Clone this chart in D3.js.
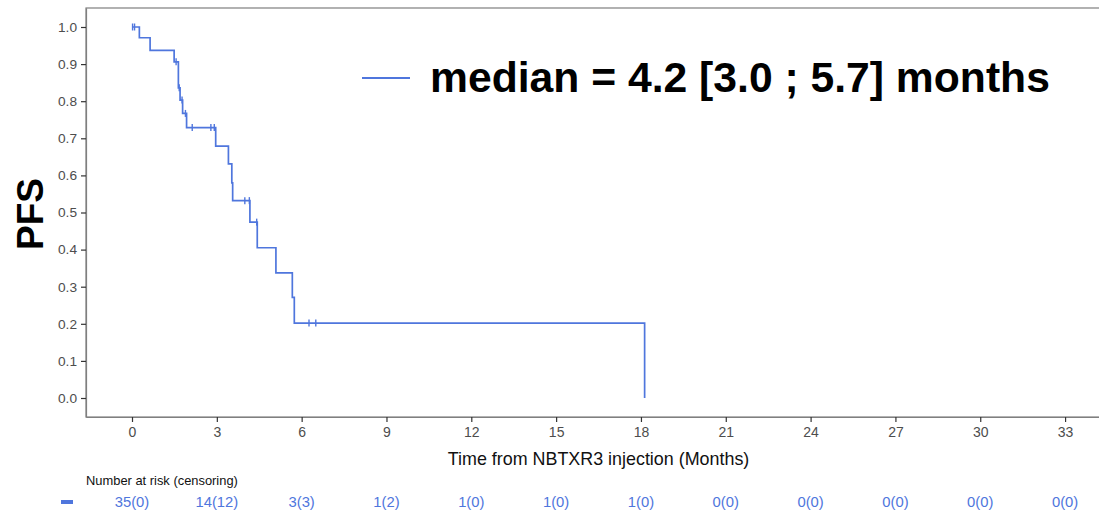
<!DOCTYPE html>
<html><head><meta charset="utf-8">
<script src="https://cdn.jsdelivr.net/npm/d3@7"></script>
<style>body{margin:0;background:#fff;} text{font-family:"Liberation Sans",Arial,sans-serif;}</style>
</head><body>
<svg id="c" width="1099" height="513"></svg>
<script>
// KM step data (event times and survival after each event)
const eventTimes = [0, 0.26, 0.64, 1.49, 1.64, 1.70, 1.79, 1.93, 2.96, 3.41, 3.53, 3.56, 4.17, 4.43, 5.09, 5.67, 5.74, 18.13];
const survival   = [1.0, 0.971, 0.937, 0.906, 0.836, 0.803, 0.767, 0.729, 0.679, 0.631, 0.580, 0.532, 0.474, 0.405, 0.337, 0.271, 0.202, 0.0];
const censorTimes = [0.02, 0.09, 1.56, 1.67, 1.77, 1.89, 2.13, 2.79, 2.91, 3.99, 4.15, 4.41, 6.26, 6.50];
const censorSurv  = [1.0, 1.0, 0.906, 0.836, 0.803, 0.767, 0.729, 0.729, 0.729, 0.532, 0.532, 0.474, 0.202, 0.202];
const xTicks = [0,3,6,9,12,15,18,21,24,27,30,33];
const yTicks = [0,0.1,0.2,0.3,0.4,0.5,0.6,0.7,0.8,0.9,1.0];
const riskLabels = ["35(0)","14(12)","3(3)","1(2)","1(0)","1(0)","1(0)","0(0)","0(0)","0(0)","0(0)","0(0)"];
const legendText = "median = 4.2 [3.0 ; 5.7] months";

const blue = "#4f76dd";
const svg = d3.select("#c");
const L = 86, R = 1099, T = 8, B = 417;
const x = d3.scaleLinear().domain([-1.627, 34.2]).range([L, R]);
const y = d3.scaleLinear().domain([-0.0512, 1.0512]).range([B, T]);

// panel border
svg.append("rect").attr("x", L).attr("y", T).attr("width", R - L + 2).attr("height", B - T)
  .attr("fill", "none").attr("stroke", "#7f7f7f").attr("stroke-width", 1.2);

// axes
const xa = svg.append("g").attr("transform", `translate(0,${B})`)
  .call(d3.axisBottom(x).tickValues(xTicks).tickSize(5).tickPadding(5).tickSizeOuter(0));
const ya = svg.append("g").attr("transform", `translate(${L},0)`)
  .call(d3.axisLeft(y).tickValues(yTicks).tickFormat(d3.format(".1f")).tickSize(5).tickPadding(4).tickSizeOuter(0));
[xa, ya].forEach(g => {
  g.select(".domain").attr("stroke", "#7f7f7f").attr("stroke-width", 1.2);
  g.selectAll(".tick line").attr("stroke", "#333").attr("stroke-width", 1.2);
  g.selectAll(".tick text").attr("fill", "#4d4d4d").style("font-size", "13.7px").style("font-family", "Liberation Sans, Arial, sans-serif");
});
xa.selectAll(".tick text").style("font-size", "14px");

// KM curve
const pts = [];
for (let i = 0; i < eventTimes.length; i++) {
  if (i > 0) pts.push([eventTimes[i], survival[i - 1]]);
  pts.push([eventTimes[i], survival[i]]);
}
svg.append("path").datum(pts)
  .attr("d", d3.line().x(d => x(d[0])).y(d => y(d[1])))
  .attr("fill", "none").attr("stroke", blue).attr("stroke-width", 1.7);

// censor marks
svg.selectAll(".cens").data(censorTimes).enter().append("line")
  .attr("x1", (d) => x(d)).attr("x2", (d) => x(d))
  .attr("y1", (d, i) => y(censorSurv[i]) - 3.5).attr("y2", (d, i) => y(censorSurv[i]) + 3.5)
  .attr("stroke", blue).attr("stroke-width", 1.4);

// axis titles
svg.append("text").attr("x", x(16.5)).attr("y", 465).attr("text-anchor", "middle")
  .style("font-size", "17.9px").attr("fill", "#111").text("Time from NBTXR3 injection (Months)");
svg.append("text").attr("transform", "translate(43,214) rotate(-90)").attr("text-anchor", "middle")
  .style("font-size", "37px").style("font-weight", "bold").attr("fill", "#000").text("PFS");

// legend
svg.append("line").attr("x1", 362).attr("x2", 410).attr("y1", 78).attr("y2", 78)
  .attr("stroke", blue).attr("stroke-width", 2);
const lt = svg.append("text").attr("x", 430).attr("y", 92)
  .style("font-size", "39px").style("font-weight", "bold").attr("fill", "#000").text(legendText);
const w = lt.node().getComputedTextLength();
lt.style("font-size", (39 * 620 / w).toFixed(2) + "px");

// risk table
svg.append("text").attr("x", 86).attr("y", 485).style("font-size", "12.9px").attr("fill", "#111")
  .text("Number at risk (censoring)");
svg.append("line").attr("x1", 61).attr("x2", 73).attr("y1", 502).attr("y2", 502)
  .attr("stroke", blue).attr("stroke-width", 4);
svg.selectAll(".risk").data(riskLabels).enter().append("text")
  .attr("x", (d, i) => x(xTicks[i])).attr("y", 507).attr("text-anchor", "middle")
  .style("font-size", "14.8px").attr("fill", blue).text(d => d);
</script>
</body></html>
